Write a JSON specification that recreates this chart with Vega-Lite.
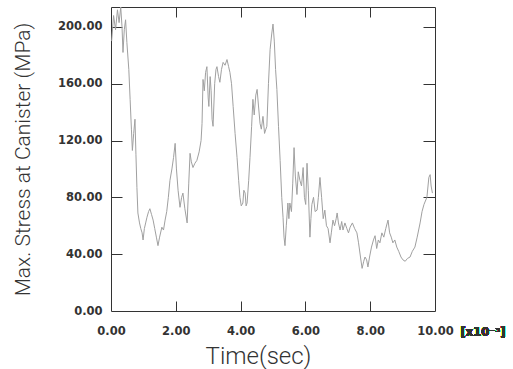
{
  "$schema": "https://vega.github.io/schema/vega-lite/v6.json",
  "width": 324,
  "height": 304,
  "autosize": {"type": "none"},
  "padding": {"left": 111, "top": 7, "right": 78, "bottom": 58},
  "background": "white",
  "config": {
    "view": {"stroke": "#333", "strokeWidth": 1},
    "axis": {
      "domain": false,
      "ticks": false,
      "tickSize": 0,
      "grid": true,
      "gridColor": "#333",
      "gridWidth": 1,
      "gridOpacity": 1,
      "labelFlush": false,
      "labelFont": "DejaVu Sans",
      "labelFontWeight": "bold",
      "labelFontSize": 11.5,
      "labelColor": "#333",
      "titleFont": "Roboto",
      "titleFontWeight": 300,
      "titleColor": "#333"
    }
  },
  "data": {
    "values": [
      {"t": 0.02, "stress": 190}, {"t": 0.08, "stress": 208}, {"t": 0.14, "stress": 198}, {"t": 0.2, "stress": 212},
      {"t": 0.25, "stress": 203}, {"t": 0.3, "stress": 214}, {"t": 0.34, "stress": 200}, {"t": 0.37, "stress": 182},
      {"t": 0.41, "stress": 198}, {"t": 0.45, "stress": 205}, {"t": 0.49, "stress": 189}, {"t": 0.55, "stress": 170},
      {"t": 0.59, "stress": 149}, {"t": 0.63, "stress": 128}, {"t": 0.66, "stress": 113}, {"t": 0.7, "stress": 125},
      {"t": 0.74, "stress": 135}, {"t": 0.77, "stress": 110}, {"t": 0.8, "stress": 87}, {"t": 0.83, "stress": 69},
      {"t": 0.88, "stress": 62}, {"t": 0.92, "stress": 58}, {"t": 0.96, "stress": 55}, {"t": 0.99, "stress": 50},
      {"t": 1.03, "stress": 58}, {"t": 1.07, "stress": 62}, {"t": 1.11, "stress": 66}, {"t": 1.16, "stress": 70},
      {"t": 1.2, "stress": 72}, {"t": 1.25, "stress": 68}, {"t": 1.3, "stress": 64}, {"t": 1.35, "stress": 58},
      {"t": 1.4, "stress": 52}, {"t": 1.45, "stress": 46}, {"t": 1.5, "stress": 52}, {"t": 1.57, "stress": 59},
      {"t": 1.62, "stress": 57}, {"t": 1.67, "stress": 64}, {"t": 1.72, "stress": 70}, {"t": 1.77, "stress": 80},
      {"t": 1.82, "stress": 92}, {"t": 1.88, "stress": 100}, {"t": 1.93, "stress": 108}, {"t": 1.98, "stress": 118},
      {"t": 2.02, "stress": 100}, {"t": 2.07, "stress": 85}, {"t": 2.13, "stress": 73}, {"t": 2.18, "stress": 80},
      {"t": 2.22, "stress": 83}, {"t": 2.28, "stress": 72}, {"t": 2.35, "stress": 62}, {"t": 2.4, "stress": 90},
      {"t": 2.44, "stress": 111}, {"t": 2.48, "stress": 105}, {"t": 2.53, "stress": 101}, {"t": 2.59, "stress": 104},
      {"t": 2.65, "stress": 106}, {"t": 2.72, "stress": 112}, {"t": 2.78, "stress": 120}, {"t": 2.81, "stress": 132},
      {"t": 2.84, "stress": 163}, {"t": 2.88, "stress": 155}, {"t": 2.92, "stress": 168}, {"t": 2.96, "stress": 172},
      {"t": 3.0, "stress": 150}, {"t": 3.02, "stress": 144}, {"t": 3.06, "stress": 165}, {"t": 3.09, "stress": 155},
      {"t": 3.12, "stress": 135}, {"t": 3.15, "stress": 130}, {"t": 3.2, "stress": 160}, {"t": 3.24, "stress": 170},
      {"t": 3.27, "stress": 172}, {"t": 3.32, "stress": 165}, {"t": 3.36, "stress": 161}, {"t": 3.41, "stress": 170},
      {"t": 3.46, "stress": 175}, {"t": 3.52, "stress": 173}, {"t": 3.58, "stress": 177}, {"t": 3.63, "stress": 172},
      {"t": 3.67, "stress": 168}, {"t": 3.72, "stress": 160}, {"t": 3.77, "stress": 144}, {"t": 3.83, "stress": 125},
      {"t": 3.89, "stress": 108}, {"t": 3.94, "stress": 92}, {"t": 3.98, "stress": 80}, {"t": 4.02, "stress": 74},
      {"t": 4.07, "stress": 76}, {"t": 4.1, "stress": 85}, {"t": 4.14, "stress": 83}, {"t": 4.17, "stress": 74},
      {"t": 4.2, "stress": 76}, {"t": 4.25, "stress": 92}, {"t": 4.29, "stress": 108}, {"t": 4.34, "stress": 130},
      {"t": 4.38, "stress": 149}, {"t": 4.42, "stress": 138}, {"t": 4.47, "stress": 152}, {"t": 4.51, "stress": 156},
      {"t": 4.55, "stress": 145}, {"t": 4.6, "stress": 132}, {"t": 4.64, "stress": 128}, {"t": 4.69, "stress": 137},
      {"t": 4.74, "stress": 125}, {"t": 4.78, "stress": 128}, {"t": 4.81, "stress": 130}, {"t": 4.86, "stress": 160},
      {"t": 4.91, "stress": 184}, {"t": 4.96, "stress": 195}, {"t": 5.0, "stress": 202}, {"t": 5.04, "stress": 190},
      {"t": 5.08, "stress": 170}, {"t": 5.12, "stress": 156}, {"t": 5.17, "stress": 130}, {"t": 5.22, "stress": 106},
      {"t": 5.27, "stress": 80}, {"t": 5.31, "stress": 66}, {"t": 5.34, "stress": 52}, {"t": 5.37, "stress": 46},
      {"t": 5.41, "stress": 60}, {"t": 5.46, "stress": 76}, {"t": 5.49, "stress": 65}, {"t": 5.52, "stress": 76},
      {"t": 5.57, "stress": 70}, {"t": 5.61, "stress": 90}, {"t": 5.65, "stress": 115}, {"t": 5.69, "stress": 95},
      {"t": 5.74, "stress": 82}, {"t": 5.78, "stress": 98}, {"t": 5.83, "stress": 92}, {"t": 5.88, "stress": 88},
      {"t": 5.93, "stress": 101}, {"t": 5.97, "stress": 80}, {"t": 6.01, "stress": 75}, {"t": 6.05, "stress": 104},
      {"t": 6.09, "stress": 85}, {"t": 6.14, "stress": 52}, {"t": 6.17, "stress": 65}, {"t": 6.2, "stress": 75},
      {"t": 6.25, "stress": 80}, {"t": 6.3, "stress": 70}, {"t": 6.36, "stress": 71}, {"t": 6.4, "stress": 80},
      {"t": 6.45, "stress": 94}, {"t": 6.5, "stress": 80}, {"t": 6.55, "stress": 65}, {"t": 6.6, "stress": 71},
      {"t": 6.65, "stress": 60}, {"t": 6.7, "stress": 58}, {"t": 6.76, "stress": 48}, {"t": 6.8, "stress": 55},
      {"t": 6.85, "stress": 64}, {"t": 6.9, "stress": 60}, {"t": 6.95, "stress": 65}, {"t": 6.98, "stress": 69},
      {"t": 7.02, "stress": 62}, {"t": 7.07, "stress": 57}, {"t": 7.12, "stress": 63}, {"t": 7.16, "stress": 57},
      {"t": 7.22, "stress": 62}, {"t": 7.28, "stress": 58}, {"t": 7.33, "stress": 55}, {"t": 7.38, "stress": 59},
      {"t": 7.45, "stress": 62}, {"t": 7.52, "stress": 58}, {"t": 7.59, "stress": 55}, {"t": 7.64, "stress": 48},
      {"t": 7.7, "stress": 38}, {"t": 7.75, "stress": 30}, {"t": 7.8, "stress": 35}, {"t": 7.84, "stress": 38},
      {"t": 7.89, "stress": 36}, {"t": 7.93, "stress": 31}, {"t": 7.98, "stress": 38}, {"t": 8.04, "stress": 45},
      {"t": 8.1, "stress": 50}, {"t": 8.15, "stress": 53}, {"t": 8.2, "stress": 44}, {"t": 8.25, "stress": 50},
      {"t": 8.3, "stress": 48}, {"t": 8.36, "stress": 55}, {"t": 8.42, "stress": 52}, {"t": 8.48, "stress": 58},
      {"t": 8.55, "stress": 64}, {"t": 8.6, "stress": 55}, {"t": 8.65, "stress": 52}, {"t": 8.7, "stress": 48},
      {"t": 8.76, "stress": 50}, {"t": 8.82, "stress": 45}, {"t": 8.88, "stress": 42}, {"t": 8.95, "stress": 38},
      {"t": 9.01, "stress": 36}, {"t": 9.08, "stress": 35}, {"t": 9.15, "stress": 37}, {"t": 9.23, "stress": 38},
      {"t": 9.3, "stress": 42}, {"t": 9.38, "stress": 45}, {"t": 9.45, "stress": 52}, {"t": 9.54, "stress": 62},
      {"t": 9.6, "stress": 70}, {"t": 9.66, "stress": 75}, {"t": 9.75, "stress": 80}, {"t": 9.81, "stress": 94},
      {"t": 9.85, "stress": 96}, {"t": 9.88, "stress": 88}, {"t": 9.92, "stress": 83}
    ]
  },
  "layer": [
    {
      "mark": {"type": "line", "stroke": "#a0a0a0", "strokeWidth": 1},
      "encoding": {
        "x": {
          "field": "t", "type": "quantitative",
          "scale": {"domain": [0, 10], "nice": false, "zero": false},
          "axis": {
            "orient": "bottom",
            "values": [2, 4, 6, 8],
            "format": ".2f",
            "gridDash": [10, 284, 10, 0],
            "labels": false,
            "title": null
          }
        },
        "y": {
          "field": "stress", "type": "quantitative",
          "scale": {"domain": [0, 214], "nice": false, "zero": false},
          "axis": {
            "orient": "left",
            "values": [40, 80, 120, 160, 200],
            "gridDash": [11, 301, 12, 0],
            "labels": false,
            "title": null
          }
        }
      }
    },
    {
      "mark": {"type": "line", "strokeOpacity": 0},
      "encoding": {
        "x": {
          "field": "t", "type": "quantitative",
          "axis": {
            "orient": "bottom",
            "values": [0, 2, 4, 6, 8, 10],
            "format": ".2f",
            "grid": false,
            "labelPadding": 14,
            "title": "Time(sec)",
            "titleFontSize": 24,
            "titlePadding": 8,
            "titleX": 147
          }
        },
        "y": {
          "field": "stress", "type": "quantitative",
          "axis": {
            "orient": "left",
            "values": [0, 40, 80, 120, 160, 200],
            "format": ".2f",
            "grid": false,
            "labelPadding": 9,
            "title": "Max. Stress at Canister (MPa)",
            "titleFontSize": 21,
            "titlePadding": 24
          }
        }
      }
    },
    {
      "mark": {"type": "line", "strokeOpacity": 0},
      "encoding": {
        "x": {
          "field": "t", "type": "quantitative",
          "axis": {"orient": "top", "values": [1, 3, 5, 7, 9], "labels": false, "title": null, "gridDash": [7, 291, 6, 0]}
        },
        "y": {
          "field": "stress", "type": "quantitative",
          "axis": {"orient": "right", "values": [20, 60, 100, 140, 180], "labels": false, "title": null, "gridDash": [7, 311, 6, 0]}
        }
      }
    },
    {
      "mark": {"type": "text", "font": "DejaVu Sans", "fontWeight": "bold", "fontSize": 11.5, "fill": "#333", "align": "center", "baseline": "middle", "dx": 48, "dy": 22},
      "encoding": {
        "x": {"datum": 10, "type": "quantitative", "axis": null},
        "y": {"datum": 0, "type": "quantitative", "axis": null},
        "text": {"value": "[x10⁻³]"}
      }
    }
  ],
  "resolve": {"axis": {"x": "independent", "y": "independent"}}
}
